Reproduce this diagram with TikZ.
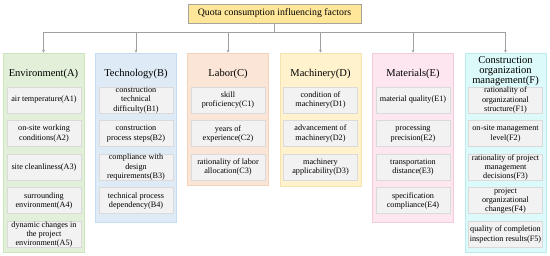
\documentclass[tikz,border=0pt]{standalone}
\usepackage{fontspec}
\setmainfont{Liberation Serif}
\usetikzlibrary{arrows.meta,positioning}

\definecolor{topfill}{HTML}{FFE699}
\definecolor{topdraw}{HTML}{A8A39A}
\definecolor{envfill}{HTML}{E2F0D9}
\definecolor{envdraw}{HTML}{CDE5BF}
\definecolor{techfill}{HTML}{DEEBF7}
\definecolor{techdraw}{HTML}{C5DCF0}
\definecolor{labfill}{HTML}{FBE5D6}
\definecolor{labdraw}{HTML}{F5D2BC}
\definecolor{machfill}{HTML}{FFF2CC}
\definecolor{machdraw}{HTML}{F5E3AE}
\definecolor{matfill}{HTML}{FDE6EF}
\definecolor{matdraw}{HTML}{F3CCDC}
\definecolor{orgfill}{HTML}{DDFAFA}
\definecolor{orgdraw}{HTML}{BCEBEE}
\definecolor{subfill}{HTML}{F2F2F2}
\definecolor{subdraw}{HTML}{DADADA}
\definecolor{linkgray}{HTML}{A0A0A0}

\begin{document}
\begin{tikzpicture}[
  x=1pt,y=-1pt,
  >={Stealth[length=3pt,width=3pt]},
  topbox/.style={draw=topdraw,fill=topfill,line width=0.6pt,minimum width=173,minimum height=19,inner sep=0pt,font=\fontsize{9.8}{11}\selectfont},
  col/.style={line width=0.6pt,minimum width=81,inner sep=0pt},
  ttl/.style={align=center,inner sep=0pt,font=\fontsize{10.5}{10.2}\selectfont},
  sub/.style={draw=subdraw,fill=subfill,line width=0.6pt,align=center,minimum width=74,minimum height=26,inner xsep=1pt,inner ysep=0pt,font=\fontsize{8.2}{9.2}\selectfont},
  link/.style={linkgray,line width=0.8pt},
  flow/.style={->,link},
  node distance=7pt,
]
\useasboundingbox (0,0) rectangle (550,256);
% ---- root and bus ----
\node[topbox] (root) at (274.5,13.5) {Quota consumption influencing factors};
\coordinate (hub) at (274.5,32);
% ---- category columns ----
\node[col,draw=envdraw,fill=envfill,minimum height=199] (A) at (43.5,152.5) {};
\node[col,draw=techdraw,fill=techfill,minimum height=169] (B) at (136,137.5) {};
\node[col,draw=labdraw,fill=labfill,minimum height=132] (C) at (228,119) {};
\node[col,draw=machdraw,fill=machfill,minimum height=133] (D) at (320.5,119.5) {};
\node[col,draw=matdraw,fill=matfill,minimum height=169] (E) at (413,137.5) {};
\node[col,draw=orgdraw,fill=orgfill,minimum height=199] (F) at (505.5,152.5) {};
\node[ttl] (At) at (43.5,74) {Environment(A)};
\node[ttl] (Bt) at (136,74) {Technology(B)};
\node[ttl] (Ct) at (228,74) {Labor(C)};
\node[ttl] (Dt) at (320.5,74) {Machinery(D)};
\node[ttl] (Et) at (413,74) {Materials(E)};
\node[ttl] (Ft) at (505.5,71) {Construction\\organization\\management(F)};
% ---- connectors ----
\draw[link] (root.south) -- (hub);
\draw[flow] (hub) -| (A.north);
\draw[flow] (hub) -| (B.north);
\draw[flow] (hub) -| (C.north);
\draw[flow] (hub) -| (D.north);
\draw[flow] (hub) -| (E.north);
\draw[flow] (hub) -| (F.north);
% ---- environment ----
\node[sub] (A1) at (44,100) {air temperature(A1)};
\node[sub,below=of A1] (A2) {on-site working\\conditions(A2)};
\node[sub,below=of A2] (A3) {site cleanliness(A3)};
\node[sub,below=of A3] (A4) {surrounding\\environment(A4)};
\node[sub,below=of A4] (A5) {dynamic changes in\\the project\\environment(A5)};
% ---- technology ----
\node[sub] (B1) at (136,100) {construction\\technical\\difficulty(B1)};
\node[sub,below=of B1] (B2) {construction\\process steps(B2)};
\node[sub,below=of B2] (B3) {compliance with\\design\\requirements(B3)};
\node[sub,below=of B3] (B4) {technical process\\dependency(B4)};
% ---- labor ----
\node[sub] (C1) at (228,100) {skill\\proficiency(C1)};
\node[sub,below=of C1] (C2) {years of\\experience(C2)};
\node[sub,below=of C2] (C3) {rationality of labor\\allocation(C3)};
% ---- machinery ----
\node[sub] (D1) at (320.5,100) {condition of\\machinery(D1)};
\node[sub,below=of D1] (D2) {advancement of\\machinery(D2)};
\node[sub,below=of D2] (D3) {machinery\\applicability(D3)};
% ---- materials ----
\node[sub] (E1) at (413,100) {material quality(E1)};
\node[sub,below=of E1] (E2) {processing\\precision(E2)};
\node[sub,below=of E2] (E3) {transportation\\distance(E3)};
\node[sub,below=of E3] (E4) {specification\\compliance(E4)};
% ---- organization management ----
\node[sub] (F1) at (505.5,100) {rationality of\\organizational\\structure(F1)};
\node[sub,below=of F1] (F2) {on-site management\\level(F2)};
\node[sub,below=of F2] (F3) {rationality of project\\management\\decisions(F3)};
\node[sub,below=of F3] (F4) {project\\organizational\\changes(F4)};
\node[sub,below=of F4] (F5) {quality of completion\\inspection results(F5)};
\end{tikzpicture}
\end{document}
